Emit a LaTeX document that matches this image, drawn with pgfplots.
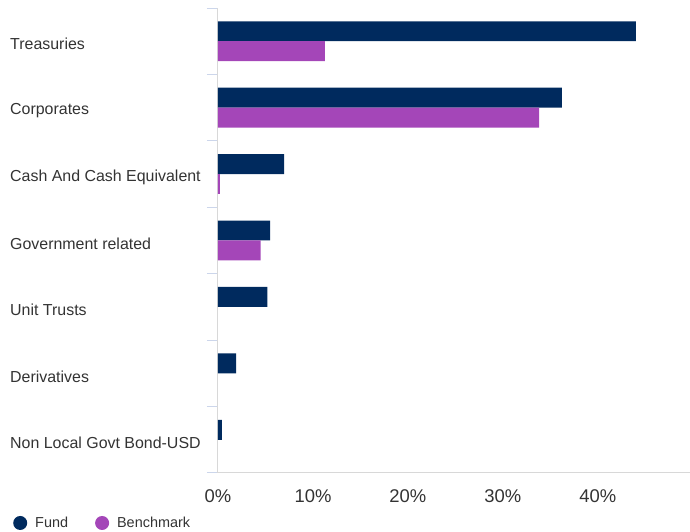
\documentclass[border=0pt]{standalone}
\usepackage{pgfplots}
\pgfplotsset{compat=1.18}
\usepackage{fontspec}
\setmainfont{Liberation Sans}
\definecolor{fund}{HTML}{002A5E}
\definecolor{bench}{HTML}{A446B8}
\definecolor{txt}{HTML}{333333}
\definecolor{tickc}{HTML}{CCD6EB}
\definecolor{axc}{HTML}{D8D8D8}
\begin{document}
\begin{tikzpicture}
\begin{axis}[
  name=ax,
  scale only axis, width=472bp, height=465bp,
  xbar, bar width=0.3,
  xmin=0, xmax=49.7, ymin=-0.5, ymax=6.5, y dir=reverse,
  axis x line*=bottom, axis y line*=left,
  x axis line style={axc, line width=1bp},
  y axis line style={axc, line width=1bp},
  ytick={0,...,6},
  yticklabels={Treasuries, Corporates, Cash And Cash Equivalent, Government related, Unit Trusts, Derivatives, Non Local Govt Bond-USD},
  minor ytick={-0.5,0.5,...,6.5},
  major tick length=0pt, minor tick length=11bp, tick align=outside,
  minor tick style={tickc, line width=1bp},
  xtick={0,10,20,30,40},
  xtick style={draw=none},
  yticklabel style={anchor=west, inner sep=0pt, xshift=-208bp, yshift=-3bp, font=\fontsize{16}{19}\selectfont, text=txt},
  xticklabel={\pgfmathprintnumber{\tick}\%},
  xticklabel style={font=\fontsize{18.5}{22}\selectfont, text=txt, yshift=-13bp},
  /pgf/number format/assume math mode=true,
  legend style={at={(-0.4343,-0.1075)}, anchor=west, draw=none, fill=none, inner sep=0pt,
    font=\fontsize{14.5}{17}\selectfont, text=txt,
    /tikz/every odd column/.append style={column sep=6bp},
    /tikz/every even column/.append style={column sep=25bp}},
  legend columns=2,
  legend image code/.code={\path[#1,draw=none] (0bp,0bp) circle (7bp);},
]
\addplot[fill=fund, draw=none, bar shift=-0.15] coordinates {
  (44.0,0) (36.2,1) (6.95,2) (5.5,3) (5.2,4) (1.9,5) (0.4,6)};
\addlegendentry{Fund}
\addplot[fill=bench, draw=none, bar shift=0.15] coordinates {
  (11.26,0) (33.8,1) (0.2,2) (4.5,3)};
\addlegendentry{Benchmark}
\end{axis}
\pgfresetboundingbox
\path[use as bounding box] ([xshift=-218bp,yshift=-59bp]ax.south west) rectangle ([yshift=8bp]ax.north east);
\end{tikzpicture}
\end{document}
